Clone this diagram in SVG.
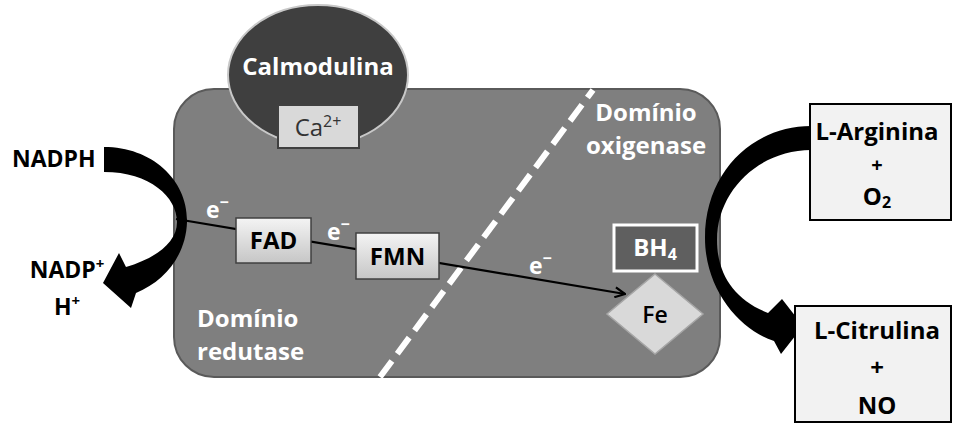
<svg xmlns="http://www.w3.org/2000/svg" width="953" height="423" viewBox="0 0 953 423">
<defs>
<style>
text{font-family:"Open Sans","Liberation Sans",sans-serif;font-weight:bold;}
.blk{fill:#000;}
.wht{fill:#fff;}
.ctr{text-anchor:middle;}
.lbl{font-size:24px;}
.dom{font-size:24px;fill:#fff;}
.box{fill:#f2f2f2;stroke:#000;stroke-width:2;}
.cof{fill:url(#g1);stroke:#404040;stroke-width:1.5;}
</style>
<linearGradient id="g1" x1="0" y1="0" x2="0" y2="1">
<stop offset="0" stop-color="#f4f4f4"/>
<stop offset="1" stop-color="#c6c6c6"/>
</linearGradient>
<marker id="ah" viewBox="0 0 12 12" refX="11" refY="6" markerWidth="12" markerHeight="12" markerUnits="userSpaceOnUse" orient="auto">
<path d="M1 1 L11 6 L1 11" fill="none" stroke="#000" stroke-width="2.2"/>
</marker>
</defs>
<rect width="953" height="423" fill="#fff"/>
<g id="enzyme">
<rect x="174" y="89" width="546" height="288" rx="40" ry="40" fill="#7f7f7f" stroke="#5a5a5a" stroke-width="2"/>
<line x1="380" y1="377" x2="593" y2="90" stroke="#fff" stroke-width="6" stroke-dasharray="20 9"/>
<text class="dom ctr" x="646" y="121">Domínio</text>
<text class="dom ctr" x="646" y="154">oxigenase</text>
<text class="dom" x="197" y="327">Domínio</text>
<text class="dom" x="197" y="360">redutase</text>
</g>
<g id="calmodulina">
<ellipse cx="318" cy="75" rx="90" ry="70" fill="#3f3f3f" stroke="#c8c8c8" stroke-width="2"/>
<text class="wht ctr" x="318" y="75" font-size="24">Calmodulina</text>
</g>
<g id="ca">
<rect x="278" y="105" width="81" height="43" fill="#d9d9d9" stroke="#404040" stroke-width="2"/>
<text x="318" y="136" class="ctr" font-size="24" fill="#333" style="font-weight:normal">Ca<tspan font-size="16" dy="-9">2+</tspan></text>
</g>
<g id="connectors">
<line x1="176" y1="219" x2="625" y2="294" stroke="#000" stroke-width="2.2" marker-end="url(#ah)"/>
<path d="M104 147 C152 147 188 180 187 222 C186 255 165 281 136 293 L131 308 L103 283 L119 253 L126 267 C153 259 177 244 177 222 C177 197 150 172 104 172 Z" fill="#000"/>
<path d="M811 126 C755 126 705 170 705 238 C705 290 740 330 774 341 L781 354 L803 326 L782 299 L768 313 C735 300 717 275 717 240 C717 190 760 150 811 150 Z" fill="#000"/>
</g>
<g id="e1"><text class="wht" x="206" y="218" font-size="23">e<tspan font-size="16" dy="-10">−</tspan></text></g>
<g id="e2"><text class="wht" x="327" y="240" font-size="23">e<tspan font-size="16" dy="-10">−</tspan></text></g>
<g id="e3"><text class="wht" x="529" y="274" font-size="23">e<tspan font-size="16" dy="-10">−</tspan></text></g>
<g id="fad">
<rect class="cof" x="236" y="218" width="75" height="45"/>
<text class="blk ctr lbl" x="273.5" y="249">FAD</text>
</g>
<g id="fmn">
<rect class="cof" x="356" y="233" width="83" height="46"/>
<text class="blk ctr lbl" x="397.5" y="265">FMN</text>
</g>
<g id="bh4">
<rect x="614" y="225" width="83" height="46" fill="#5f5f5f" stroke="#fff" stroke-width="3"/>
<text class="wht ctr lbl" x="655" y="256">BH<tspan font-size="16" dy="4">4</tspan></text>
</g>
<g id="fe">
<polygon points="655,274 703,314 655,354 607,314" fill="#d9d9d9" stroke="#a6a6a6" stroke-width="1.5"/>
<text class="blk ctr" x="655" y="323" font-size="23" style="font-weight:600">Fe</text>
</g>
<g id="nadph"><text class="blk" x="12" y="167" font-size="23">NADPH</text></g>
<g id="nadp">
<text class="blk ctr" x="67" y="278" font-size="23">NADP<tspan font-size="15" dy="-9">+</tspan></text>
<text class="blk ctr" x="67" y="315" font-size="23">H<tspan font-size="15" dy="-9">+</tspan></text>
</g>
<g id="arginina">
<rect class="box" x="810" y="104" width="141" height="116"/>
<text class="blk ctr lbl" x="877" y="140">L-Arginina</text>
<text class="blk ctr" x="877" y="172" font-size="20">+</text>
<text class="blk ctr lbl" x="877" y="205">O<tspan font-size="16" dy="3">2</tspan></text>
</g>
<g id="citrulina">
<rect class="box" x="795" y="306" width="156" height="116"/>
<text class="blk ctr lbl" x="877" y="339">L-Citrulina</text>
<text class="blk ctr lbl" x="877" y="376">+</text>
<text class="blk ctr lbl" x="877" y="414">NO</text>
</g>
</svg>
